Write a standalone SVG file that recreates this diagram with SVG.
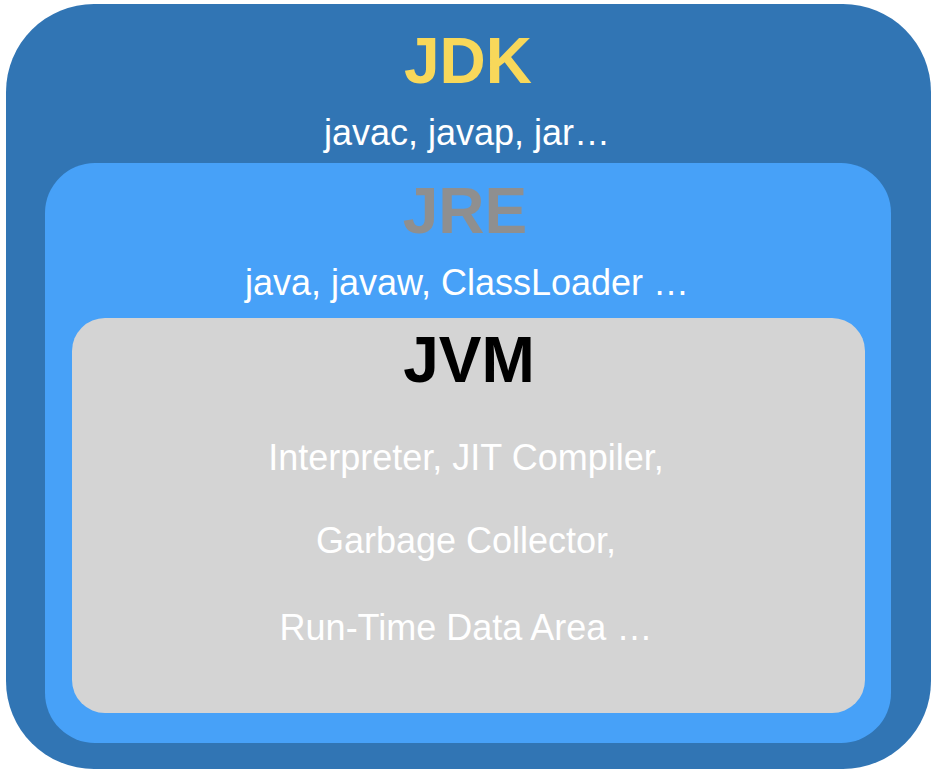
<svg xmlns="http://www.w3.org/2000/svg" width="938" height="774" viewBox="0 0 938 774">
<style>
text{font-family:"Liberation Sans",Arial,Helvetica,sans-serif;text-anchor:middle}
.title{font-size:64px;font-weight:bold}
.sub{font-size:36px;fill:#ffffff}
</style>
<rect width="938" height="774" fill="#ffffff"/>
<g id="jdk">
<rect x="6" y="4" width="925" height="765" rx="88" ry="88" fill="#3175B4"/>
<text class="title" x="468" y="83" fill="#F8D85A">JDK</text>
<text class="sub" x="467" y="145">javac, javap, jar…</text>
</g>
<g id="jre">
<rect x="45" y="163" width="846" height="580" rx="50" ry="50" fill="#47A1F8"/>
<text class="title" x="465" y="233" fill="#8F8F8F">JRE</text>
<text class="sub" x="467" y="295">java, javaw, ClassLoader …</text>
</g>
<g id="jvm">
<rect x="72" y="318" width="793" height="395" rx="33" ry="33" fill="#D4D4D4"/>
<text class="title" x="469" y="382" fill="#000000">JVM</text>
<text class="sub" x="466" y="470">Interpreter, JIT Compiler,</text>
<text class="sub" x="466" y="553">Garbage Collector,</text>
<text class="sub" x="466" y="640">Run-Time Data Area …</text>
</g>
<g id="connectors"></g>
</svg>
